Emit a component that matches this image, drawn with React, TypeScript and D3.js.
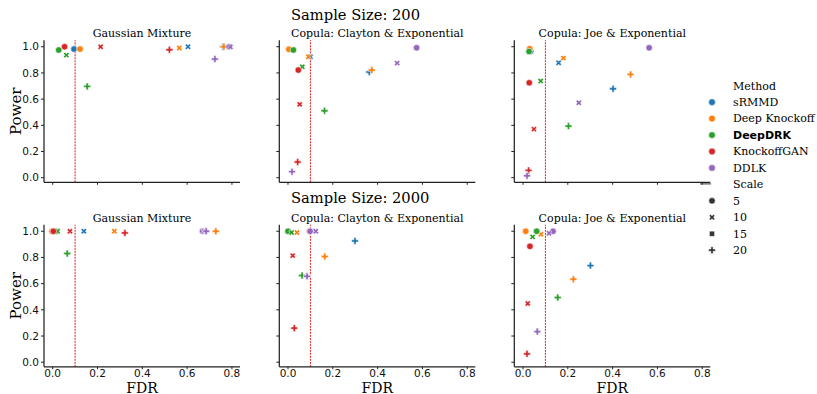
import React from "react";
import * as d3 from "d3";

const methods = ["sRMMD", "Deep Knockoff", "DeepDRK", "KnockoffGAN", "DDLK"];
const methodColors = ["#1f77b4", "#ff7f0e", "#2ca02c", "#d62728", "#9467bd"];
const scales = ["5", "10", "15", "20"];
const rowTitles = ["Sample Size: 200", "Sample Size: 2000"];
const panelTitles = ["Gaussian Mixture", "Copula: Clayton & Exponential", "Copula: Joe & Exponential"];
const xTicks = [0, 0.2, 0.4, 0.6, 0.8];
const yTicks = [0, 0.2, 0.4, 0.6, 0.8, 1.0];
const fdrThreshold = 0.1;

type Pt = [string, string, number, number]; // method, scale, fdr, power

const gauss200: Pt[] = [
  ["sRMMD", "5", 0.095, 0.982], ["sRMMD", "10", 0.604, 1.0], ["sRMMD", "20", 0.76, 1.0],
  ["Deep Knockoff", "5", 0.122, 0.982], ["Deep Knockoff", "10", 0.565, 0.99], ["Deep Knockoff", "20", 0.764, 1.0],
  ["DeepDRK", "5", 0.027, 0.975], ["DeepDRK", "10", 0.061, 0.936], ["DeepDRK", "20", 0.154, 0.697],
  ["KnockoffGAN", "5", 0.053, 1.0], ["KnockoffGAN", "10", 0.214, 1.0], ["KnockoffGAN", "20", 0.521, 0.977],
  ["DDLK", "5", 0.787, 1.0], ["DDLK", "10", 0.793, 1.0], ["DDLK", "20", 0.724, 0.906],
];
const clayton200: Pt[] = [
  ["sRMMD", "10", 0.1, 0.924], ["sRMMD", "20", 0.363, 0.807],
  ["Deep Knockoff", "5", 0.004, 0.98], ["Deep Knockoff", "10", 0.091, 0.924], ["Deep Knockoff", "20", 0.374, 0.822],
  ["DeepDRK", "5", 0.024, 0.975], ["DeepDRK", "10", 0.064, 0.847], ["DeepDRK", "20", 0.163, 0.511],
  ["KnockoffGAN", "5", 0.046, 0.822], ["KnockoffGAN", "10", 0.052, 0.56], ["KnockoffGAN", "20", 0.043, 0.12],
  ["DDLK", "5", 0.574, 0.992], ["DDLK", "10", 0.487, 0.875], ["DDLK", "20", 0.018, 0.046],
];
const joe200: Pt[] = [
  ["sRMMD", "5", 0.034, 0.966], ["sRMMD", "10", 0.159, 0.878], ["sRMMD", "20", 0.402, 0.679],
  ["Deep Knockoff", "5", 0.03, 0.985], ["Deep Knockoff", "10", 0.18, 0.913], ["Deep Knockoff", "20", 0.48, 0.789],
  ["DeepDRK", "5", 0.027, 0.964], ["DeepDRK", "10", 0.079, 0.738], ["DeepDRK", "20", 0.203, 0.394],
  ["KnockoffGAN", "5", 0.028, 0.725], ["KnockoffGAN", "10", 0.049, 0.371], ["KnockoffGAN", "20", 0.025, 0.056],
  ["DDLK", "5", 0.563, 0.992], ["DDLK", "10", 0.249, 0.573], ["DDLK", "20", 0.018, 0.015],
];
const gauss2000: Pt[] = [
  ["sRMMD", "5", 0.0, 1.0], ["sRMMD", "10", 0.139, 1.0],
  ["Deep Knockoff", "5", -0.003, 1.0], ["Deep Knockoff", "10", 0.275, 1.0], ["Deep Knockoff", "20", 0.728, 1.0],
  ["DeepDRK", "5", 0.015, 1.0], ["DeepDRK", "10", 0.022, 1.0], ["DeepDRK", "20", 0.065, 0.83],
  ["KnockoffGAN", "5", 0.003, 1.0], ["KnockoffGAN", "10", 0.077, 1.0], ["KnockoffGAN", "20", 0.322, 0.987],
  ["DDLK", "5", 0.669, 1.0], ["DDLK", "10", 0.675, 1.0], ["DDLK", "20", 0.685, 1.0],
];
const clayton2000: Pt[] = [
  ["sRMMD", "20", 0.299, 0.926],
  ["Deep Knockoff", "10", 0.04, 0.99], ["Deep Knockoff", "20", 0.164, 0.807],
  ["DeepDRK", "5", 0.0, 1.0], ["DeepDRK", "10", 0.016, 0.99], ["DeepDRK", "20", 0.063, 0.662],
  ["KnockoffGAN", "5", 0.097, 1.0], ["KnockoffGAN", "10", 0.021, 0.814], ["KnockoffGAN", "20", 0.028, 0.26],
  ["DDLK", "5", 0.099, 1.0], ["DDLK", "10", 0.124, 1.0], ["DDLK", "20", 0.085, 0.656],
];
const joe2000: Pt[] = [
  ["sRMMD", "20", 0.301, 0.738],
  ["Deep Knockoff", "5", 0.012, 1.0], ["Deep Knockoff", "10", 0.08, 0.977], ["Deep Knockoff", "20", 0.225, 0.634],
  ["DeepDRK", "5", 0.061, 1.0], ["DeepDRK", "10", 0.043, 0.957], ["DeepDRK", "20", 0.155, 0.494],
  ["KnockoffGAN", "5", 0.031, 0.885], ["KnockoffGAN", "10", 0.021, 0.448], ["KnockoffGAN", "20", 0.018, 0.064],
  ["DDLK", "5", 0.134, 1.0], ["DDLK", "10", 0.116, 0.985], ["DDLK", "20", 0.064, 0.234],
];
const panelData: Pt[][][] = [
  [gauss200, clayton200, joe200],
  [gauss2000, clayton2000, joe2000],
];

const colorScale = d3.scaleOrdinal<string, string>().domain(methods).range(methodColors);

function markerPath(scale: string, s: number): string {
  const h = s / 2;
  if (scale === "5") {
    const r = h * 0.93;
    return `M${r},0A${r},${r} 0 1,1 ${-r},0A${r},${r} 0 1,1 ${r},0Z`;
  }
  if (scale === "15") {
    const q = h * 0.75;
    return `M${-q},${-q}L${q},${-q}L${q},${q}L${-q},${q}Z`;
  }
  const a = s / 6;
  const pts: [number, number][] = [
    [-a, -3 * a], [-a, -a], [-3 * a, -a], [-3 * a, a], [-a, a], [-a, 3 * a],
    [a, 3 * a], [a, a], [3 * a, a], [3 * a, -a], [a, -a], [a, -3 * a],
  ];
  let p = pts;
  if (scale === "10") {
    const c = Math.SQRT1_2;
    p = pts.map(([x, y]) => [(x - y) * c * 0.9, (x + y) * c * 0.9] as [number, number]);
  }
  return "M" + p.map(([x, y]) => `${x.toFixed(2)},${y.toFixed(2)}`).join("L") + "Z";
}

const serif = "'DejaVu Serif', serif";
const sans = "'DejaVu Sans', sans-serif";

export default function App() {
  const W = 817, H = 394;
  const panelLefts = [44, 279.3, 514.3];
  const panelW = 196;
  const rowTops = [40.2, 224.7];
  const rowBottoms = [182.3, 366.8];
  const axisColor = "#222";

  const x = (i: number) => d3.scaleLinear().domain([-0.0388, 0.836]).range([panelLefts[i], panelLefts[i] + panelW]);
  const y = (r: number) => d3.scaleLinear().domain([-0.035, 1.05]).range([rowBottoms[r], rowTops[r]]);

  const legendX = 712, textX = 733;
  const legendRows: { label: string; kind: string; color?: string; scale?: string; bold?: boolean }[] = [
    { label: "Method", kind: "title" },
    ...methods.map((m, i) => ({ label: m, kind: "method", color: methodColors[i], bold: m === "DeepDRK" })),
    { label: "Scale", kind: "title2" },
    ...scales.map((s) => ({ label: s, kind: "scale", scale: s })),
  ];

  return (
    <svg width={W} height={H} style={{ position: "absolute", left: 0, top: 0, background: "white" }}>
      {rowTitles.map((t, r) => (
        <text key={t} x={291} y={r === 0 ? 19.5 : 202.5} textAnchor="start" fontFamily={serif} fontSize={14.7} fill="#000">
          {t}
        </text>
      ))}
      {[0, 1].map((r) =>
        [0, 1, 2].map((c) => {
          const xs = x(c), ys = y(r);
          const [x0, x1] = xs.range();
          const [yb, yt] = ys.range();
          const pts = panelData[r][c];
          return (
            <g key={`${r}-${c}`}>
              <text x={(x0 + x1) / 2} y={yt - 3} textAnchor="middle" fontFamily={serif} fontSize={11} fill="#000">
                {panelTitles[c]}
              </text>
              <line x1={xs(fdrThreshold)} x2={xs(fdrThreshold)} y1={yb} y2={yt} stroke="#e0191b" strokeWidth={1} strokeDasharray="2,1" />
              <line x1={x0} x2={x0} y1={yb} y2={yt} stroke={axisColor} strokeWidth={1.25} />
              <line x1={x0} x2={x1} y1={yb} y2={yb} stroke={axisColor} strokeWidth={1.25} />
              {yTicks.map((t) => (
                <g key={"y" + t}>
                  <line x1={x0 - 3} x2={x0} y1={ys(t)} y2={ys(t)} stroke={axisColor} strokeWidth={1} />
                  {c === 0 && (
                    <text x={x0 - 5} y={ys(t)} dy="0.35em" textAnchor="end" fontFamily={sans} fontSize={10.5} fill="#111">
                      {t.toFixed(1)}
                    </text>
                  )}
                </g>
              ))}
              {xTicks.map((t) => (
                <g key={"x" + t}>
                  <line x1={xs(t)} x2={xs(t)} y1={yb} y2={yb + 2.5} stroke={axisColor} strokeWidth={1} />
                  {r === 1 && (
                    <text x={xs(t)} y={yb + 10.2} textAnchor="middle" fontFamily={sans} fontSize={10.5} fill="#111">
                      {t.toFixed(1)}
                    </text>
                  )}
                </g>
              ))}
              {c === 0 && (
                <text transform={`translate(20.5,${(yb + yt) / 2}) rotate(-90)`} textAnchor="middle" fontFamily={serif} fontSize={15} fill="#000">
                  Power
                </text>
              )}
              {r === 1 && (
                <text x={(x0 + x1) / 2} y={392.5} textAnchor="middle" fontFamily={serif} fontSize={14} fill="#000">
                  FDR
                </text>
              )}
              {pts.map((p, i) => (
                <path
                  key={i}
                  d={markerPath(p[1], 7)}
                  transform={`translate(${xs(p[2])},${ys(p[3])})`}
                  fill={colorScale(p[0])}
                  stroke="white"
                  strokeWidth={0.6}
                />
              ))}
            </g>
          );
        })
      )}
      {legendRows.map((row, i) => {
        const cy = 85.7 + i * 16.45;
        return (
          <g key={row.label}>
            {row.kind === "method" && <circle cx={legendX} cy={cy} r={3.4} fill={row.color} stroke="white" strokeWidth={0.6} />}
            {row.kind === "scale" && (
              <path d={markerPath(row.scale!, 7)} transform={`translate(${legendX},${cy})`} fill="#333" stroke="white" strokeWidth={0.6} />
            )}
            {row.kind === "title2" && <line x1={700} x2={711} y1={cy - 0.5} y2={cy - 0.5} stroke="#333" strokeWidth={1} />}
            <text
              x={textX}
              y={cy}
              dy="0.35em"
              fontFamily={row.bold ? sans : serif}
              fontWeight={row.bold ? "bold" : "normal"}
              fontSize={11}
              fill="#000"
            >
              {row.label}
            </text>
          </g>
        );
      })}
    </svg>
  );
}
